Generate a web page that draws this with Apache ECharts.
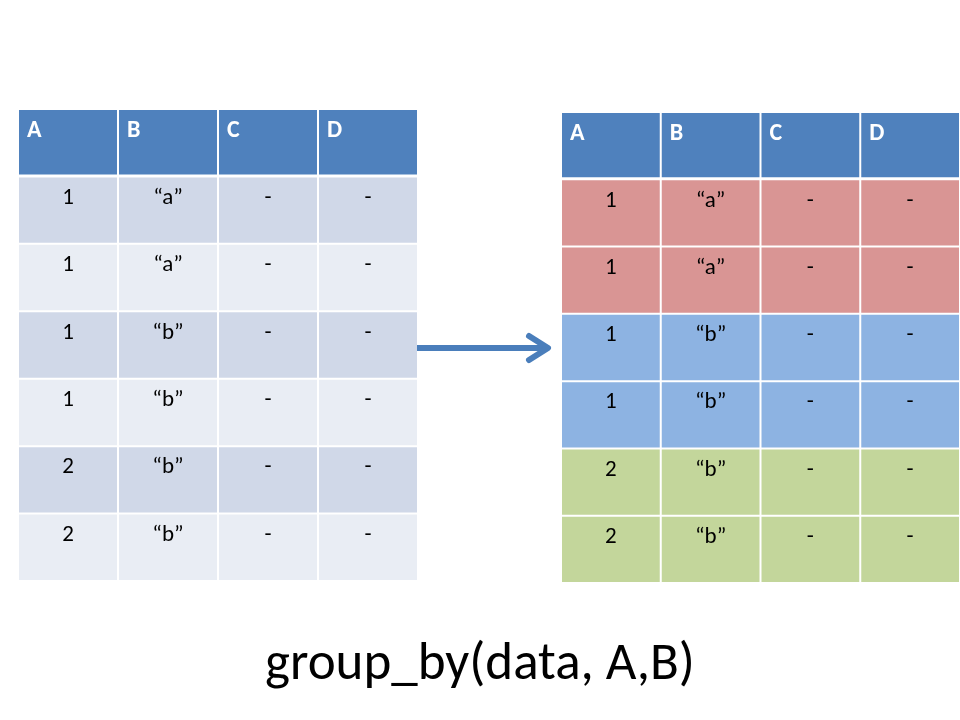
<!DOCTYPE html>
<html>
<head>
<meta charset="utf-8">
<script src="https://cdn.jsdelivr.net/npm/echarts@6/dist/echarts.min.js"></script>
<style>
  html, body { margin: 0; padding: 0; background: #fff; }
  #chart { width: 960px; height: 720px; }
</style>
</head>
<body>
<div id="chart"></div>
<script>
// table contents
const columns = ['A', 'B', 'C', 'D'];
const colA = ['1', '1', '1', '1', '2', '2'];
const colB = ['“a”', '“a”', '“b”', '“b”', '“b”', '“b”'];
const colC = ['-', '-', '-', '-', '-', '-'];
const colD = ['-', '-', '-', '-', '-', '-'];
const rowNames = ['head', 'r1', 'r2', 'r3', 'r4', 'r5', 'r6'];
const caption = 'group_by(data, A,B)';

const FONT = 'Carlito, Lato, "Liberation Sans", sans-serif';
const headColor = '#4f81bd';
const stripe = ['#d0d8e8', '#e9edf4'];
const groupColors = ['#d99594', '#8db3e2', '#c3d69b'];

const body = [colA, colB, colC, colD];

// group key for each row (A,B), used to colour the right table
const keys = colA.map((a, i) => a + '|' + colB[i]);
const uniqKeys = keys.filter((k, i) => keys.indexOf(k) === i);

function buildData(fillFor) {
    const out = [];
    columns.forEach((c, ci) => {
        out.push({value: [ci, 0, c, 'head'], fill: headColor});
        body[ci].forEach((v, ri) => {
            out.push({value: [ci, ri + 1, v, 'body'], fill: fillFor(ri)});
        });
    });
    return out;
}

const leftData = buildData(ri => stripe[ri % 2]);
const rightData = buildData(ri => groupColors[uniqKeys.indexOf(keys[ri])]);

function makeRender(data) {
    return function (params, api) {
        const item = data[params.dataIndex];
        const p = api.coord([api.value(0), api.value(1)]);
        const s = api.size([1, 1]);
        const x0 = p[0] - s[0] / 2;
        const y0 = p[1] - s[1] / 2;
        const isHead = item.value[3] === 'head';
        const rect = {
            type: 'rect',
            shape: {x: x0 + 1, y: y0 + 1, width: s[0] - 2, height: s[1] - (isHead ? 3 : 2)},
            style: {fill: item.fill}
        };
        const txt = isHead ? {
            type: 'text',
            style: {
                x: x0 + 9, y: y0 + 10, text: item.value[2],
                fill: '#fff', fontFamily: FONT, fontSize: 24, fontWeight: 'bold',
                align: 'left', verticalAlign: 'top'
            }
        } : {
            type: 'text',
            style: {
                x: p[0], y: y0 + 10, text: item.value[2],
                fill: '#000', fontFamily: FONT, fontSize: 23,
                align: 'center', verticalAlign: 'top'
            }
        };
        return {type: 'group', children: [rect, txt]};
    };
}

const chart = echarts.init(document.getElementById('chart'));

const option = {
    backgroundColor: '#fff',
    animation: false,
    grid: [
        {left: 18, top: 109, width: 400, height: 472},
        {left: 561, top: 112, width: 400, height: 471}
    ],
    xAxis: [
        {type: 'category', gridIndex: 0, data: columns, show: false},
        {type: 'category', gridIndex: 1, data: columns, show: false}
    ],
    yAxis: [
        {type: 'category', gridIndex: 0, data: rowNames, inverse: true, show: false},
        {type: 'category', gridIndex: 1, data: rowNames, inverse: true, show: false}
    ],
    series: [
        {
            type: 'custom', xAxisIndex: 0, yAxisIndex: 0,
            data: leftData, renderItem: makeRender(leftData)
        },
        {
            type: 'custom', xAxisIndex: 1, yAxisIndex: 1,
            data: rightData, renderItem: makeRender(rightData)
        }
    ],
    graphic: [
        {
            type: 'polyline',
            shape: {points: [[412, 348], [545, 348]]},
            style: {stroke: '#4a7ebb', lineWidth: 6, fill: null}
        },
        {
            type: 'polyline',
            shape: {points: [[529, 336], [548, 348], [529, 360]]},
            style: {stroke: '#4a7ebb', lineWidth: 6, fill: null, lineCap: 'round', lineJoin: 'round'}
        },
        {
            type: 'text',
            style: {
                x: 480, y: 666, text: caption, fill: '#000',
                font: '53px ' + FONT, align: 'center', verticalAlign: 'middle'
            }
        }
    ]
};

chart.setOption(option);
</script>
</body>
</html>
